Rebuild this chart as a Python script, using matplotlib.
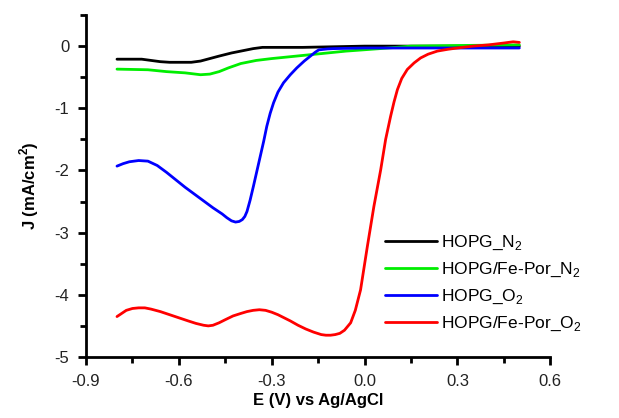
import numpy as np
import matplotlib.pyplot as plt
from matplotlib.ticker import MultipleLocator

plt.rcParams['font.family'] = ['Liberation Sans', 'DejaVu Sans']
plt.rcParams['mathtext.fontset'] = 'custom'
plt.rcParams['mathtext.rm'] = 'Liberation Sans'
plt.rcParams['mathtext.bf'] = 'Liberation Sans:bold'

# HOPG_N2
x_n2 = [-0.80, -0.72, -0.69, -0.66, -0.63, -0.56, -0.53, -0.50, -0.47, -0.43, -0.40, -0.36, -0.33,
        -0.20, 0.00, 0.20, 0.50]
y_n2 = [-0.21, -0.21, -0.23, -0.25, -0.26, -0.26, -0.24, -0.20, -0.16, -0.11, -0.08, -0.04, -0.02,
        -0.02, 0.00, 0.00, 0.00]

# HOPG/Fe-Por_N2
x_fe_n2 = [-0.80, -0.70, -0.64, -0.58, -0.53, -0.50, -0.47, -0.44, -0.40, -0.35, -0.30, -0.22,
           -0.14, -0.06, 0.05, 0.15, 0.30, 0.50]
y_fe_n2 = [-0.37, -0.38, -0.41, -0.43, -0.46, -0.45, -0.41, -0.35, -0.28, -0.23, -0.20, -0.16,
           -0.12, -0.08, -0.04, 0.00, 0.01, 0.02]

# HOPG_O2
x_o2 = [-0.80, -0.78, -0.76, -0.73, -0.70, -0.67, -0.64, -0.61, -0.58, -0.55, -0.52, -0.49, -0.46,
        -0.445, -0.43, -0.417, -0.405, -0.395, -0.387, -0.38, -0.37, -0.359, -0.348,
        -0.337, -0.326, -0.316, -0.305, -0.294, -0.28, -0.262, -0.24, -0.219, -0.195, -0.175,
        -0.16, -0.148, -0.12, -0.10, 0.00, 0.20, 0.50]
y_o2 = [-1.93, -1.89, -1.86, -1.84, -1.85, -1.92, -2.03, -2.15, -2.27, -2.38, -2.49, -2.60, -2.70,
        -2.76, -2.81, -2.83, -2.82, -2.79, -2.74, -2.66, -2.48, -2.25, -2.01,
        -1.77, -1.53, -1.29, -1.08, -0.91, -0.74, -0.59, -0.46, -0.35, -0.24, -0.16,
        -0.10, -0.06, -0.045, -0.04, -0.03, -0.03, -0.03]

# HOPG/Fe-Por_O2
x_fe_o2 = [-0.80, -0.785, -0.77, -0.75, -0.73, -0.71, -0.69, -0.66, -0.63, -0.60, -0.57, -0.545,
           -0.52, -0.505, -0.49, -0.47, -0.45, -0.425, -0.40, -0.38, -0.36, -0.34, -0.32, -0.30,
           -0.28, -0.26, -0.24, -0.215, -0.19, -0.165, -0.14, -0.125, -0.11, -0.095, -0.08,
           -0.065, -0.045, -0.03, -0.013, 0.009, 0.030, 0.052, 0.068, 0.084, 0.095, 0.106, 0.12,
           0.138, 0.16, 0.181, 0.205, 0.235, 0.27, 0.30, 0.35, 0.40, 0.45, 0.48, 0.50]
y_fe_o2 = [-4.35, -4.30, -4.25, -4.22, -4.21, -4.21, -4.23, -4.27, -4.32, -4.37, -4.42, -4.46,
           -4.49, -4.50, -4.49, -4.45, -4.40, -4.34, -4.30, -4.27, -4.25, -4.24, -4.25, -4.28,
           -4.32, -4.37, -4.42, -4.49, -4.55, -4.60, -4.64, -4.65, -4.65, -4.64, -4.62,
           -4.57, -4.45, -4.25, -3.92, -3.22, -2.58, -1.99, -1.50, -1.13, -0.90, -0.70, -0.52,
           -0.375, -0.27, -0.19, -0.13, -0.08, -0.05, -0.03, 0.00, 0.02, 0.05, 0.07, 0.06]

series = [
    (x_n2, y_n2, 'black', 'HOPG_N$_2$'),
    (x_fe_n2, y_fe_n2, '#00ee00', 'HOPG/Fe-Por_N$_2$'),
    (x_o2, y_o2, '#0000ff', 'HOPG_O$_2$'),
    (x_fe_o2, y_fe_o2, '#ff0000', 'HOPG/Fe-Por_O$_2$'),
]

fig = plt.figure(figsize=(6.19, 4.18), dpi=100)
ax = fig.add_axes([0.139, 0.146, 0.750, 0.818])

for x, y, c, lab in series:
    ax.plot(x, y, color=c, lw=2, label=lab, solid_joinstyle='round', solid_capstyle='round')

ax.set_xlim(-0.9, 0.6)
ax.set_ylim(-5, 0.5)
ax.xaxis.set_minor_locator(MultipleLocator(0.15))
ax.yaxis.set_minor_locator(MultipleLocator(0.5))
ax.set_xticks([-0.9, -0.6, -0.3, 0.0, 0.3, 0.6])
ax.set_xticklabels(['-0.9', '-0.6', '-0.3', '0.0', '0.3', '0.6'])
ax.set_yticks([-5, -4, -3, -2, -1, 0])
ax.set_yticklabels(['-5', '-4', '-3', '-2', '-1', '0'])

for s in ['top', 'right']:
    ax.spines[s].set_visible(False)
for s in ['left', 'bottom']:
    ax.spines[s].set_linewidth(2)

ax.tick_params(which='major', length=6, width=2, labelsize=12, labelcolor='#222222', pad=6)
ax.tick_params(which='minor', length=4, width=2)

ax.set_xlabel('E (V) vs Ag/AgCl', fontsize=12, fontweight='bold', labelpad=3)
ax.set_ylabel(r'J (mA/cm$^{\mathbf{2}}$)', fontsize=12, fontweight='bold', labelpad=10)

ax.legend(loc='upper left', bbox_to_anchor=(0.622, 0.44), bbox_transform=fig.transFigure,
          frameon=False, fontsize=12.5, handlelength=3.0, handletextpad=0.25,
          labelspacing=0.5, borderpad=0, borderaxespad=0)

fig.savefig('out.png', dpi=100)
